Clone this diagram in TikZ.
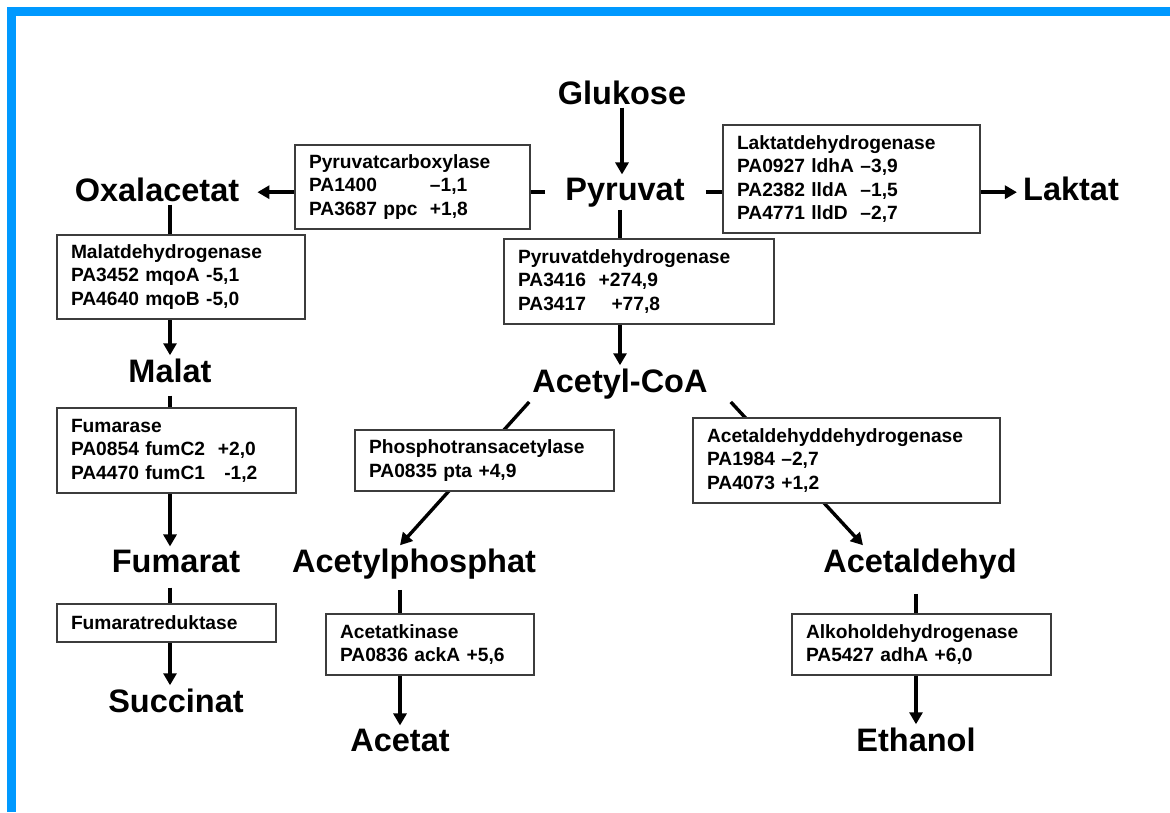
\documentclass[tikz,border=0pt]{standalone}
\usepackage{fontspec}
\setmainfont{Liberation Sans}
\usetikzlibrary{arrows.meta, positioning}
\definecolor{frameblue}{RGB}{0, 153, 255}
\definecolor{boxgray}{RGB}{60, 60, 60}

\begin{document}
\begin{tikzpicture}[x=1pt, y=-1pt,
        metab/.style={font=\fontsize{32.5}{38}\selectfont\bfseries, inner sep=3pt, anchor=base},
        enzyme/.style={draw=boxgray, line width=1.2pt, fill=white, align=left,
            inner xsep=14pt, inner ysep=0pt, font=\fontsize{19.2}{23.5}\selectfont\bfseries},
        flow/.style={line width=3.4pt, -{Triangle[length=12pt, width=13pt]}}]
    \useasboundingbox (0,0) rectangle (1170,812);
    \fill[frameblue] (7,7) rectangle (1170,16);
    \fill[frameblue] (7,7) rectangle (16,812);

    \node[metab] (glukose) at (622,104) {Glukose};
    \node[metab] (pyruvat) at (625,200) {Pyruvat};
    \node[metab] (oxal) at (157,201) {Oxalacetat};
    \node[metab] (laktat) at (1071,200) {Laktat};
    \node[metab] (malat) at (170,382) {Malat};
    \node[metab] (fumarat) at (176,572) {Fumarat};
    \node[metab] (succinat) at (176,712) {Succinat};
    \node[metab] (acetylcoa) at (620,392) {Acetyl-CoA};
    \node[metab] (acetylp) at (414,572) {Acetylphosphat};
    \node[metab] (acetald) at (920,572) {Acetaldehyd};
    \node[metab] (acetat) at (400,751) {Acetat};
    \node[metab] (ethanol) at (916,751) {Ethanol};

    \draw[flow] (glukose.south) -- (glukose.south |- pyruvat.north);
    \draw[flow, shorten <=17pt, shorten >=15pt] (pyruvat.west) -- (pyruvat.west -| oxal.east);
    \draw[flow, shorten <=18pt, shorten >=3pt] (pyruvat.east) -- (pyruvat.east -| laktat.west);
    \draw[flow] (pyruvat.south -| acetylcoa) -- (acetylcoa.north);
    \draw[flow] (malat.north |- oxal.south) -- (malat.north);
    \draw[flow, shorten <=10pt] (malat.south) -- (malat.south |- fumarat.north);
    \draw[flow, shorten <=12pt] (fumarat.south -| malat) -- (succinat.north -| malat);
    \draw[flow] (acetylcoa.south west) -- ([xshift=-14pt]acetylp.north);
    \draw[flow] ([xshift=20pt]acetylcoa.south east) -- ([xshift=-57pt]acetald.north);
    \draw[flow, shorten <=8pt] (acetylp.south -| acetat) -- (acetat.north);
    \draw[flow, shorten <=12pt] (acetald.south -| ethanol) -- (ethanol.north);

    \node[enzyme, text width=207pt, minimum height=84pt] (pc) at (412.5,187)
        {Pyruvatcarboxylase\\ \makebox[121pt][l]{PA1400}–1,1\\ \makebox[121pt][l]{PA3687 ppc}+1,8};
    \node[enzyme, text width=229pt, minimum height=108pt] (ldh) at (851.5,179)
        {Laktatdehydrogenase\\ PA0927 ldhA –3,9\\ PA2382 lldA~~–1,5\\ PA4771 lldD~~–2,7};
    \node[enzyme, text width=220pt, minimum height=84pt] (mdh) at (181,277)
        {Malatdehydrogenase\\ PA3452 mqoA -5,1\\ PA4640 mqoB -5,0};
    \node[enzyme, text width=211pt, minimum height=85pt] (fum) at (176.5,450.5)
        {Fumarase\\ PA0854 fumC2~~+2,0\\ PA4470 fumC1~~~-1,2};
    \node[enzyme, text width=242pt, minimum height=85pt] (pdh) at (639,281.5)
        {Pyruvatdehydrogenase\\ PA3416~~+274,9\\ PA3417~~~~+77,8};
    \node[enzyme, text width=231pt, minimum height=61pt] (pta) at (484.5,460.5)
        {Phosphotransacetylase\\ PA0835 pta +4,9};
    \node[enzyme, text width=279pt, minimum height=85pt] (aldh) at (846.5,460.5)
        {Acetaldehyddehydrogenase\\ PA1984 –2,7\\ PA4073 +1,2};
    \node[enzyme, text width=191pt, minimum height=38pt] (frd) at (166.5,623)
        {Fumaratreduktase};
    \node[enzyme, text width=180pt, minimum height=61pt] (ack) at (430,644.5)
        {Acetatkinase\\ PA0836 ackA +5,6};
    \node[enzyme, text width=231pt, minimum height=61pt] (adh) at (921.5,644.5)
        {Alkoholdehydrogenase\\ PA5427 adhA +6,0};
\end{tikzpicture}
\end{document}
